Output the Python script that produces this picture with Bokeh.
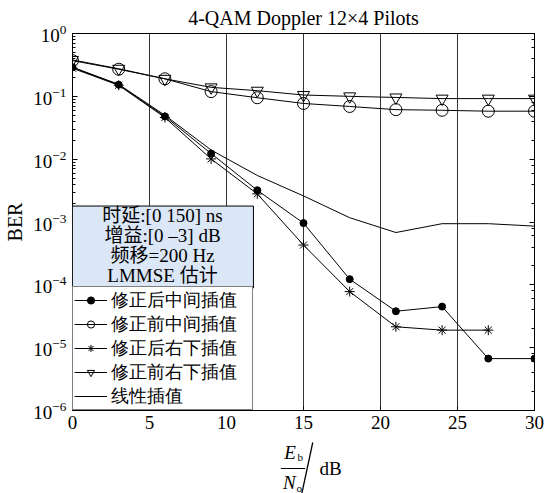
from bokeh.plotting import figure
from bokeh.layouts import column
from bokeh.models import (Legend, LegendItem, LogAxis, BoxAnnotation, Label,
                          FixedTicker)
from bokeh.embed import file_html
from bokeh.resources import INLINE

# ---------------- data ----------------
snr = [0, 3, 6, 9, 12, 15, 18, 21, 24, 27, 30]
snr_after_rb = [0, 3, 6, 9, 12, 15, 18, 21, 24, 27]

ber_after_mid = [0.29, 0.153, 0.048, 0.0123, 0.0032, 0.00096, 0.000123, 3.8e-5, 4.5e-5, 6.7e-6, 6.7e-6]
ber_before_mid = [0.37, 0.27, 0.19, 0.119, 0.095, 0.077, 0.069, 0.0614, 0.06, 0.058, 0.058]
ber_after_rb = [0.28, 0.15, 0.046, 0.0101, 0.0028, 0.00043, 7.8e-5, 2.15e-5, 1.9e-5, 1.9e-5]
ber_before_rb = [0.38, 0.275, 0.19, 0.139, 0.123, 0.105, 0.1, 0.096, 0.092, 0.092, 0.092]
ber_linear = [0.29, 0.155, 0.05, 0.014, 0.0055, 0.0026, 0.00117, 0.00068, 0.00094, 0.00094, 0.00086]

labels = ["修正后中间插值", "修正前中间插值", "修正后右下插值", "修正前右下插值", "线性插值"]
x_ticks = [0, 5, 10, 15, 20, 25, 30]
title_text = "4-QAM Doppler 12×4 Pilots"
note_lines = ["时延:[0 150] ns", "增益:[0 –3] dB", "频移=200 Hz", "LMMSE 估计"]

SERIF = "Liberation Serif, Noto Sans CJK SC"

p = figure(width=550, height=440, x_range=(0, 30), y_range=(1e-6, 1),
           y_axis_type="log", output_backend="svg", toolbar_location=None,
           min_border_left=72, min_border_right=16, min_border_top=32,
           min_border_bottom=30)
p.background_fill_color = "white"
p.border_fill_color = "white"
p.outline_line_color = "black"
p.outline_line_width = 1

p.title.text = title_text
p.title.align = "center"
p.title.text_font = SERIF
p.title.text_font_size = "20px"
p.title.text_font_style = "normal"
p.title.text_color = "black"
p.title.standoff = 9

# axes
p.xaxis.ticker = FixedTicker(ticks=x_ticks)
p.xaxis.minor_tick_line_color = None
p.xaxis.major_tick_in = 4
p.xaxis.major_tick_out = 0
p.xaxis.major_label_text_font = SERIF
p.xaxis.major_label_text_font_size = "19px"
p.xaxis.major_label_text_color = "black"
p.xaxis.axis_line_color = "black"
p.xaxis.major_label_standoff = 5

p.yaxis.major_tick_in = 5
p.yaxis.major_tick_out = 0
p.yaxis.minor_tick_in = 3
p.yaxis.minor_tick_out = 0
p.yaxis.major_label_text_font = SERIF
p.yaxis.major_label_text_font_size = "19px"
p.yaxis.major_label_text_color = "black"
p.yaxis.axis_line_color = "black"
p.yaxis.axis_label = "BER"
p.yaxis.axis_label_text_font = SERIF
p.yaxis.axis_label_text_font_size = "20px"
p.yaxis.axis_label_text_font_style = "normal"
p.yaxis.axis_label_text_color = "black"
p.yaxis.axis_label_standoff = 4
p.yaxis.major_label_standoff = 6

right = LogAxis(major_tick_in=5, major_tick_out=0, minor_tick_in=3, minor_tick_out=0,
                major_label_text_font_size="2px", major_label_text_color=None,
                major_label_standoff=0, axis_line_color="black")
p.add_layout(right, "right")

p.xgrid.grid_line_color = "#333333"
p.xgrid.grid_line_width = 1
p.ygrid.visible = False

# series
l1 = p.line(snr, ber_after_mid, line_color="black", line_width=1)
m1 = p.scatter(snr, ber_after_mid, marker="circle", size=7, fill_color="black", line_color="black")
l2 = p.line(snr, ber_before_mid, line_color="black", line_width=1)
m2 = p.scatter(snr, ber_before_mid, marker="circle", size=12, fill_color=None, line_color="black")
l3 = p.line(snr_after_rb, ber_after_rb, line_color="black", line_width=1)
m3 = p.scatter(snr_after_rb, ber_after_rb, marker="asterisk", size=10, line_color="black")
l4 = p.line(snr, ber_before_rb, line_color="black", line_width=1)
m4 = p.scatter(snr, ber_before_rb, marker="inverted_triangle", size=12, fill_color=None, line_color="black")
l5 = p.line(snr, ber_linear, line_color="black", line_width=1)

# note box
note = BoxAnnotation(left=0, right=11.75, bottom=10 ** -4.05, top=10 ** -2.746,
                     fill_color="#dbe6f6", fill_alpha=1.0, line_color="black",
                     line_width=1, line_alpha=1.0)
p.add_layout(note)
for i, t in enumerate(note_lines):
    p.add_layout(Label(x=90, y=195 - 20 * i, x_units="screen", y_units="screen",
                       text=t, text_font=SERIF, text_font_size="19px",
                       text_align="center", text_baseline="middle", text_color="black"))

# legend
legend = Legend(items=[
    LegendItem(label=labels[0], renderers=[l1, m1]),
    LegendItem(label=labels[1], renderers=[l2, m2]),
    LegendItem(label=labels[2], renderers=[l3, m3]),
    LegendItem(label=labels[3], renderers=[l4, m4]),
    LegendItem(label=labels[4], renderers=[l5]),
], location="bottom_left")
legend.margin = 0
legend.padding = 1
legend.spacing = 0
legend.label_height = 18
legend.glyph_height = 18
legend.glyph_width = 33
legend.label_standoff = 4
legend.label_width = 140
legend.label_text_font = "Liberation Serif"
legend.label_text_font_size = "17.5px"
legend.label_text_color = "black"
legend.border_line_color = "black"
legend.border_line_width = 1
legend.background_fill_alpha = 1.0
p.add_layout(legend)

# ---------- x axis label strip: Eb/No / dB ----------
q = figure(width=550, height=53, x_range=(0, 550), y_range=(0, 53),
           output_backend="svg", toolbar_location=None, min_border=0,
           x_axis_location=None, y_axis_location=None)
q.grid.visible = False
q.outline_line_color = None
q.background_fill_color = "white"
q.border_fill_color = "white"


def lab(x, y, t, size, style="normal", align="center"):
    q.add_layout(Label(x=x, y=y, text=t, text_font=SERIF, text_font_size=size,
                       text_font_style=style, text_align=align,
                       text_baseline="middle", text_color="black"))


lab(259, 41, "E", "19px", "italic")
lab(271, 37, "b", "11px")
lab(258, 11, "N", "19px", "italic")
lab(270, 6, "o", "11px")
lab(294, 25, "dB", "19px", align="left")
q.segment(x0=[248, 286], y0=[25, 51], x1=[277, 273], y1=[25, 0],
          line_color="black", line_width=[1, 1.3])

open("out.html", "w").write(file_html(column(p, q), INLINE))
